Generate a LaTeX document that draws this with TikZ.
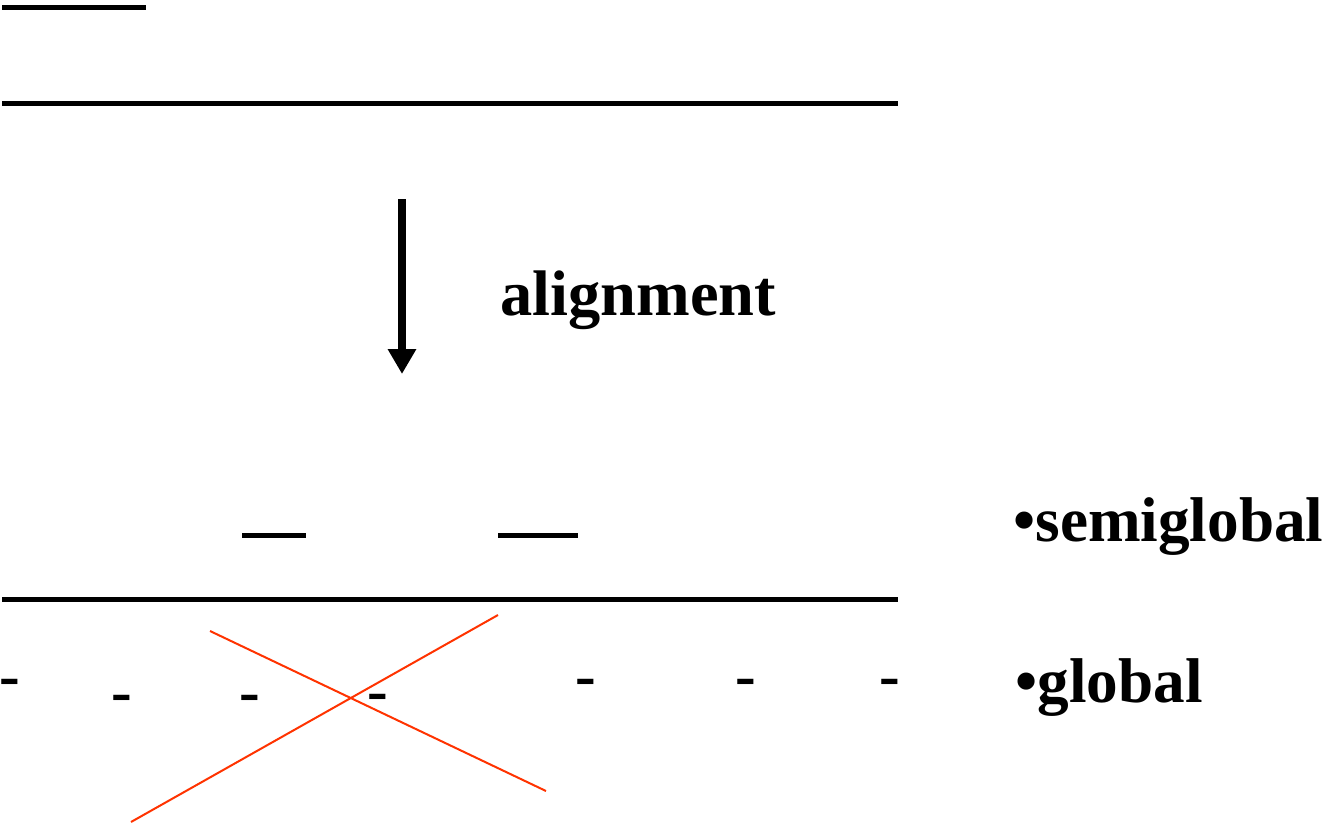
\documentclass[tikz,border=0pt]{standalone}
\usepackage{fontspec}
\setmainfont{Liberation Serif}
\usetikzlibrary{arrows.meta}
\definecolor{crossred}{RGB}{255,51,0}
\tikzset{
  seqline/.style={line width=2.5pt,black},
  crossline/.style={line width=1pt,crossred},
  bigtext/.style={inner sep=0pt,font=\fontsize{31.6}{36}\selectfont\bfseries},
  gapmark/.style={inner sep=0pt,anchor=base,font=\fontsize{31}{36}\selectfont\bfseries},
  downarrow/.style={line width=4pt,-{Triangle[length=12.5pt,width=13.5pt]}}
}
\begin{document}
\begin{tikzpicture}[x=0.5pt,y=-0.5pt]
\fill[white] (0,0) rectangle (1324,825);
\useasboundingbox (0,0) rectangle (1324,825);
% top sequences
\coordinate (t1a) at (2,7);
\coordinate (t1b) at (146,7);
\coordinate (t2a) at (2,103);
\coordinate (t2b) at (898,103);
\draw[seqline] (t1a) -- (t1b);
\draw[seqline] (t2a) -- (t2b);
% arrow
\coordinate (arrtop) at (402,199);
\coordinate (arrtip) at (402,374);
\draw[downarrow] (arrtop) -- (arrtip);
\node[bigtext,anchor=base west,font=\fontsize{32.2}{36}\selectfont\bfseries] (align) at (500,315) {alignment};
% semiglobal
\coordinate (s1a) at (242,535);
\coordinate (s1b) at (306,535);
\coordinate (s2a) at (498,535);
\coordinate (s2b) at (578,535);
\coordinate (s3a) at (2,599);
\coordinate (s3b) at (898,599);
\draw[seqline] (s1a) -- (s1b);
\draw[seqline] (s2a) -- (s2b);
\draw[seqline] (s3a) -- (s3b);
\node[bigtext,anchor=base west] (semi) at (1013,541) {•semiglobal};
% global gaps
\node[gapmark] (g1) at (10,696) {-};
\node[gapmark] (g2) at (122,712) {-};
\node[gapmark] (g3) at (250,712) {-};
\node[gapmark] (g4) at (378,711) {-};
\node[gapmark] (g5) at (586,696) {-};
\node[gapmark] (g6) at (746,696) {-};
\node[gapmark] (g7) at (890,696) {-};
\node[bigtext,anchor=base west] (glob) at (1015,702) {•global};
% red cross
\coordinate (c1a) at (210,631);
\coordinate (c1b) at (546,791);
\coordinate (c2a) at (498,615);
\coordinate (c2b) at (131,822);
\draw[crossline] (c1a) -- (c1b);
\draw[crossline] (c2a) -- (c2b);
\end{tikzpicture}
\end{document}
